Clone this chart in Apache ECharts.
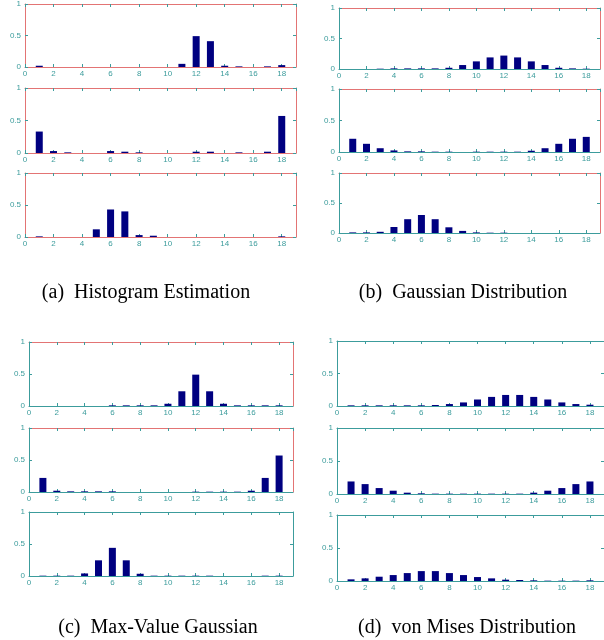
<!DOCTYPE html>
<html>
<head>
<meta charset="utf-8">
<title>orientation histograms</title>
<script src="https://cdn.jsdelivr.net/npm/echarts@6/dist/echarts.min.js"></script>
<style>
html,body{margin:0;padding:0;background:#fff;}
#main{width:604px;height:640px;}
</style>
</head>
<body>
<div id="main"></div>
<script>
// bins 1..18, tick labels on x and y
var bins = [1,2,3,4,5,6,7,8,9,10,11,12,13,14,15,16,17,18];
var xTickLabels = [0,2,4,6,8,10,12,14,16,18];
var yTickLabels = [0,0.5,1];

// (a) Histogram Estimation
var histTop = [0.02,0,0,0,0,0,0,0,0,0,0.05,0.49,0.41,0.02,0.01,0,0.01,0.03];
var histMid = [0.33,0.03,0.01,0,0,0.03,0.02,0.01,0,0,0,0.02,0.02,0,0.01,0,0.02,0.57];
var histBot = [0.01,0,0,0,0.12,0.43,0.40,0.03,0.02,0,0,0,0,0,0,0,0,0.01];
// (b) Gaussian Distribution
var gaussTop = [0,0,0.005,0.01,0.01,0.01,0.01,0.02,0.065,0.125,0.19,0.22,0.19,0.125,0.065,0.02,0.01,0.005];
var gaussMid = [0.21,0.13,0.06,0.025,0.01,0.01,0.005,0.005,0,0.005,0.005,0.005,0.005,0.02,0.06,0.13,0.21,0.24];
var gaussBot = [0.01,0.01,0.02,0.10,0.23,0.30,0.23,0.095,0.035,0.01,0.005,0.005,0,0,0,0,0,0];
// (c) Max-Value Gaussian
var maxTop = [0,0,0,0,0,0.01,0.01,0.01,0.01,0.035,0.23,0.49,0.23,0.035,0.01,0.01,0.01,0.01];
var maxMid = [0.22,0.02,0.01,0.01,0.01,0.01,0,0,0,0,0,0.005,0.005,0.005,0.005,0.02,0.22,0.57];
var maxBot = [0.005,0.005,0.005,0.04,0.245,0.44,0.245,0.035,0.005,0.005,0.005,0.005,0.005,0,0,0,0.005,0.005];
// (d) von Mises Distribution
var vmTop = [0.01,0.01,0.01,0.01,0.01,0.01,0.015,0.03,0.055,0.10,0.14,0.17,0.17,0.14,0.10,0.055,0.03,0.02];
var vmMid = [0.19,0.15,0.09,0.05,0.02,0.01,0.005,0.005,0.005,0.005,0.005,0.005,0.005,0.02,0.05,0.09,0.15,0.19];
var vmBot = [0.025,0.04,0.065,0.09,0.12,0.15,0.15,0.12,0.09,0.06,0.04,0.02,0.015,0.01,0.005,0.005,0.005,0.01];

var captions = ['(a)  Histogram Estimation','(b)  Gaussian Distribution','(c)  Max-Value Gaussian','(d)  von Mises Distribution'];

var RED = '#e37474';
var TEAL = '#3c9c9c';
var BAR = '#000080';

// layout of the 12 small plots
var cells = [
	{data:histTop, left:25, top:3, width:271, height:64, box:RED, axis:RED},
	{data:histMid, left:25, top:88, width:271, height:65, box:RED, axis:RED},
	{data:histBot, left:25, top:173, width:271, height:64, box:RED, axis:RED},
	{data:gaussTop, left:339, top:8, width:261, height:61, box:RED, axis:TEAL},
	{data:gaussMid, left:339, top:89, width:261, height:63, box:RED, axis:TEAL},
	{data:gaussBot, left:339, top:173, width:261, height:60, box:RED, axis:TEAL},
	{data:maxTop, left:29, top:342, width:264, height:64, box:RED, axis:TEAL},
	{data:maxMid, left:29, top:428, width:264, height:64, box:RED, axis:TEAL},
	{data:maxBot, left:29, top:512, width:264, height:64, box:TEAL, axis:TEAL},
	{data:vmTop, left:337, top:341, width:269, height:65, box:TEAL, axis:TEAL},
	{data:vmMid, left:337, top:428, width:269, height:66, box:TEAL, axis:TEAL},
	{data:vmBot, left:337, top:515, width:269, height:66, box:TEAL, axis:TEAL}
];

function toPairs(values){
	var out = [];
	for(var i=0;i<bins.length;i++){
		out.push([bins[i], values[i]]);
	}
	return out;
}

var grids = [], xAxes = [], yAxes = [], series = [];
for(var i=0;i<cells.length;i++){
	var c = cells[i];
	grids.push({left:c.left, top:c.top, width:c.width, height:c.height, containLabel:false});
	//bottom x axis with labels
	xAxes.push({
		type:'value', gridIndex:i, position:'bottom', min:0, max:19, interval:2,
		axisLine:{show:true, onZero:false, lineStyle:{color:c.axis, width:1}},
		axisTick:{show:true, inside:true, length:3, lineStyle:{color:TEAL}},
		axisLabel:{show:true, showMaxLabel:false, color:TEAL, fontSize:8, margin:3, fontFamily:'Liberation Sans',
			formatter:function(v){ return xTickLabels.indexOf(v) >= 0 ? String(v) : ''; }},
		splitLine:{show:false}
	});
	//top x axis, just the frame and ticks
	xAxes.push({
		type:'value', gridIndex:i, position:'top', min:0, max:19, interval:2,
		axisLine:{show:true, onZero:false, lineStyle:{color:c.box, width:1}},
		axisTick:{show:true, inside:true, length:3, lineStyle:{color:TEAL}},
		axisLabel:{show:false},
		splitLine:{show:false}
	});
	yAxes.push({
		type:'value', gridIndex:i, position:'left', min:0, max:1, interval:0.5,
		axisLine:{show:true, onZero:false, lineStyle:{color:c.axis, width:1}},
		axisTick:{show:true, inside:true, length:3, lineStyle:{color:TEAL}},
		axisLabel:{show:true, color:TEAL, fontSize:8, margin:4, fontFamily:'Liberation Sans',
			formatter:function(v){ return yTickLabels.indexOf(v) >= 0 ? String(v) : ''; }},
		splitLine:{show:false}
	});
	yAxes.push({
		type:'value', gridIndex:i, position:'right', min:0, max:1, interval:0.5,
		axisLine:{show:true, onZero:false, lineStyle:{color:c.box, width:1}},
		axisTick:{show:true, inside:true, length:3, lineStyle:{color:TEAL}},
		axisLabel:{show:false},
		splitLine:{show:false}
	});
	series.push({
		type:'bar',
		xAxisIndex:i*2,
		yAxisIndex:i*2,
		barWidth:7,
		itemStyle:{color:BAR, borderWidth:0},
		data:toPairs(c.data),
		silent:true
	});
}

//sub-figure captions
var captionPos = [[146,293],[463,293],[158,628],[467,628]];
var graphics = [];
for(var k=0;k<captions.length;k++){
	graphics.push({
		type:'text',
		x:captionPos[k][0],
		y:captionPos[k][1],
		style:{
			text:captions[k],
			font:'20px "Liberation Serif"',
			fill:'#000',
			textAlign:'center',
			textVerticalAlign:'middle'
		}
	});
}

var myChart = echarts.init(document.getElementById('main'), null, {renderer:'canvas'});
var option = {
	backgroundColor:'#fff',
	animation:false,
	grid:grids,
	xAxis:xAxes,
	yAxis:yAxes,
	series:series,
	graphic:graphics
};
myChart.setOption(option);
</script>
</body>
</html>
